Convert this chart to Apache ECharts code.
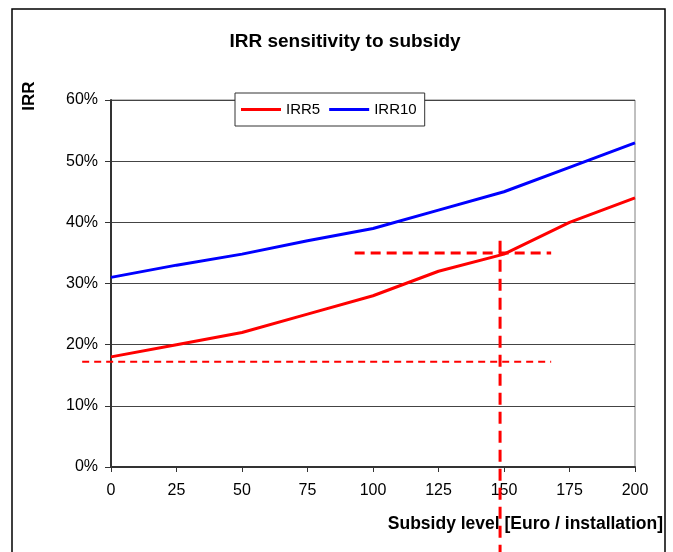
<!DOCTYPE html>
<html>
<head>
<meta charset="utf-8">
<script src="https://cdn.jsdelivr.net/npm/echarts@6/dist/echarts.min.js"></script>
<style>
  html, body { margin: 0; padding: 0; background: #fff; }
  #chart { width: 673px; height: 552px; }
</style>
</head>
<body>
<div id="chart"></div>
<script>
// Subsidy levels (Euro / installation)
const subsidy = [0, 25, 50, 75, 100, 125, 150, 175, 200];
// IRR in percent for 5- and 10-year horizons
const irr5 = [18, 20, 22, 25, 28, 32, 34.8, 40, 44];
const irr10 = [31, 33, 34.8, 37, 39, 42, 45, 49, 53];

// Reading guides: [x1, y1, x2, y2] in axis units
const guideLow = [-11, 17.2, 168, 17.2];
const guideTarget = [93, 35, 168, 35];
const guideSubsidy = [148.5, 37, 148.5, -14];

const FONT = 'Liberation Sans, Arial, sans-serif';

const pairs = (xs, ys) => xs.map((x, i) => [x, ys[i]]);

const chart = echarts.init(document.getElementById('chart'), null, { renderer: 'canvas' });

// Dashed guide drawn through the cartesian scales, allowed to run past the plot edges
function guide(seg, width, dash) {
  return {
    type: 'custom',
    silent: true,
    clip: false,
    z: 3,
    data: [seg],
    renderItem: function (params, api) {
      const p1 = api.coord([api.value(0), api.value(1)]);
      const p2 = api.coord([api.value(2), api.value(3)]);
      return {
        type: 'line',
        shape: { x1: p1[0], y1: p1[1], x2: p2[0], y2: p2[1] },
        style: { stroke: '#FF0000', lineWidth: width, lineDash: dash, fill: null }
      };
    }
  };
}

chart.setOption({
  animation: false,
  backgroundColor: '#ffffff',
  title: {
    text: 'IRR sensitivity to subsidy',
    left: 340,
    textAlign: 'center',
    top: 27,
    textStyle: { fontFamily: FONT, fontWeight: 'bold', fontSize: 19, color: '#000' }
  },
  legend: {
    data: [
      { name: 'IRR5', icon: 'rect' },
      { name: 'IRR10', icon: 'rect' }
    ],
    left: 235,
    top: 93,
    orient: 'horizontal',
    backgroundColor: '#fff',
    borderColor: '#333',
    borderWidth: 1,
    borderRadius: 0,
    padding: [9, 8, 9, 6],
    itemWidth: 40,
    itemHeight: 3,
    itemGap: 9,
    textStyle: { fontFamily: FONT, fontSize: 15, color: '#000' }
  },
  grid: {
    left: 111,
    right: 38,
    top: 100,
    bottom: 85,
    show: true,
    borderColor: '#808080',
    borderWidth: 1,
    backgroundColor: 'transparent'
  },
  xAxis: {
    type: 'value',
    min: 0,
    max: 200,
    interval: 25,
    axisLine: { show: true, lineStyle: { color: '#333', width: 2 } },
    axisTick: { show: true, inside: false, length: 5, lineStyle: { color: '#333' } },
    splitLine: { show: false },
    axisLabel: { margin: 16, fontFamily: FONT, fontSize: 16, color: '#000' }
  },
  yAxis: {
    type: 'value',
    min: 0,
    max: 60,
    interval: 10,
    axisLine: { show: true, lineStyle: { color: '#333', width: 2 } },
    axisTick: { show: true, inside: false, length: 6, lineStyle: { color: '#333' } },
    splitLine: { show: true, lineStyle: { color: '#444', width: 1 } },
    axisLabel: { margin: 13, fontFamily: FONT, fontSize: 16, color: '#000', formatter: '{value}%' }
  },
  graphic: [
    {
      type: 'rect',
      silent: true,
      shape: { x: 12, y: 9, width: 653, height: 600 },
      style: { fill: 'none', stroke: '#000', lineWidth: 1.5 },
      z: 0
    },
    {
      type: 'text',
      x: 29,
      y: 96,
      rotation: Math.PI / 2,
      style: {
        text: 'IRR',
        font: 'bold 17px ' + FONT,
        fill: '#000',
        textAlign: 'center',
        textVerticalAlign: 'middle'
      }
    },
    {
      type: 'text',
      x: 663,
      y: 524,
      style: {
        text: 'Subsidy level [Euro / installation]',
        font: 'bold 17.5px ' + FONT,
        fill: '#000',
        textAlign: 'right',
        textVerticalAlign: 'middle'
      }
    }
  ],
  series: [
    {
      name: 'IRR5',
      type: 'line',
      data: pairs(subsidy, irr5),
      symbol: 'none',
      z: 4,
      color: '#FF0000',
      lineStyle: { color: '#FF0000', width: 3 }
    },
    {
      name: 'IRR10',
      type: 'line',
      data: pairs(subsidy, irr10),
      symbol: 'none',
      z: 4,
      color: '#0000FF',
      lineStyle: { color: '#0000FF', width: 3 }
    },
    guide(guideLow, 2, [7, 5]),
    guide(guideTarget, 3, [10, 6]),
    guide(guideSubsidy, 3, [12, 7])
  ]
});
</script>
</body>
</html>
